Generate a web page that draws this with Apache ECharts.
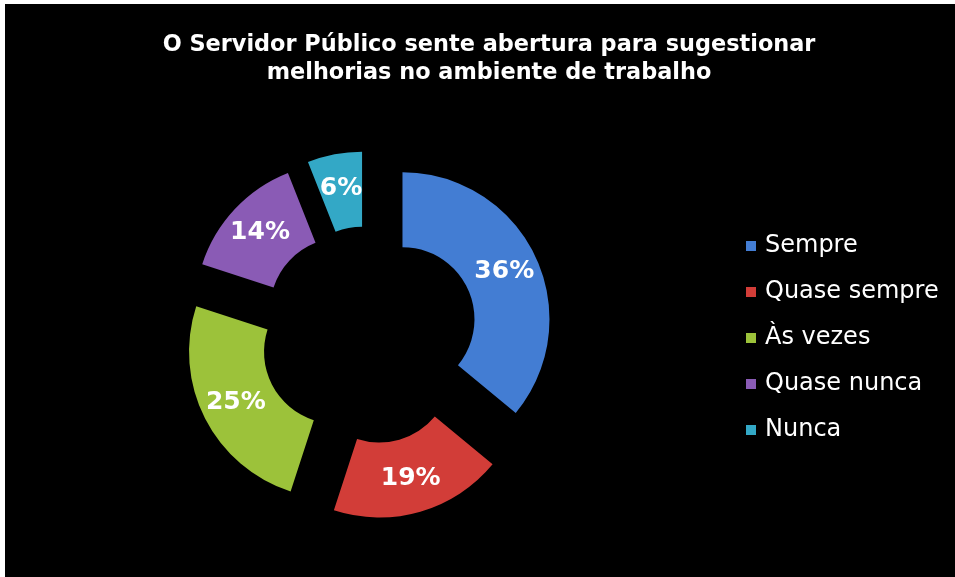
<!DOCTYPE html>
<html>
<head>
<meta charset="utf-8">
<script src="https://cdn.jsdelivr.net/npm/echarts@6/dist/echarts.min.js"></script>
<style>
  html, body { margin: 0; padding: 0; background: #fff; }
  #chart { position: absolute; left: 5px; top: 4px; width: 950px; height: 573px; background: #000; }
</style>
</head>
<body>
<div id="chart"></div>
<script>
// dados
const titleText = "O Servidor Público sente abertura para sugestionar\nmelhorias no ambiente de trabalho";
const categories = ["Sempre", "Quase sempre", "Às vezes", "Quase nunca", "Nunca"];
const percentValues = [36, 19, 25, 14, 6];
const sliceColors = ["#437DD3", "#D23D38", "#9CC23A", "#8A5BB5", "#33A8C6"];

const chart = echarts.init(document.getElementById("chart"));

const option = {
  backgroundColor: "#000",
  color: sliceColors,
  title: {
    text: titleText,
    left: 479,
    top: 22,
    textAlign: "center",
    textStyle: {
      color: "#fff",
      fontFamily: "DejaVu Sans",
      fontWeight: "bold",
      fontSize: 22.4,
      lineHeight: 28,
    },
  },
  legend: {
    orient: "vertical",
    left: 736,
    top: 225,
    icon: "rect",
    itemWidth: 10,
    itemHeight: 10,
    itemGap: 22,
    selectedMode: false,
    data: categories,
    textStyle: {
      color: "#fff",
      fontFamily: "DejaVu Sans",
      fontSize: 24,
      padding: [0, 0, 0, 4],
    },
  },
  series: [
    {
      type: "pie",
      center: [364, 331],
      radius: [72, 147],
      startAngle: 90,
      clockwise: true,
      selectedMode: "multiple",
      selectedOffset: 37,
      animation: false,
      silent: true,
      label: {
        show: true,
        position: "inside",
        formatter: "{c}%",
        color: "#fff",
        fontFamily: "DejaVu Sans",
        fontWeight: "bold",
        fontSize: 25,
      },
      labelLine: { show: false },
      itemStyle: {
        borderWidth: 0,
      },
      data: categories.map((name, i) => ({
        name: name,
        value: percentValues[i],
        selected: true,
      })),
    },
  ],
};

chart.setOption(option);
</script>
</body>
</html>
